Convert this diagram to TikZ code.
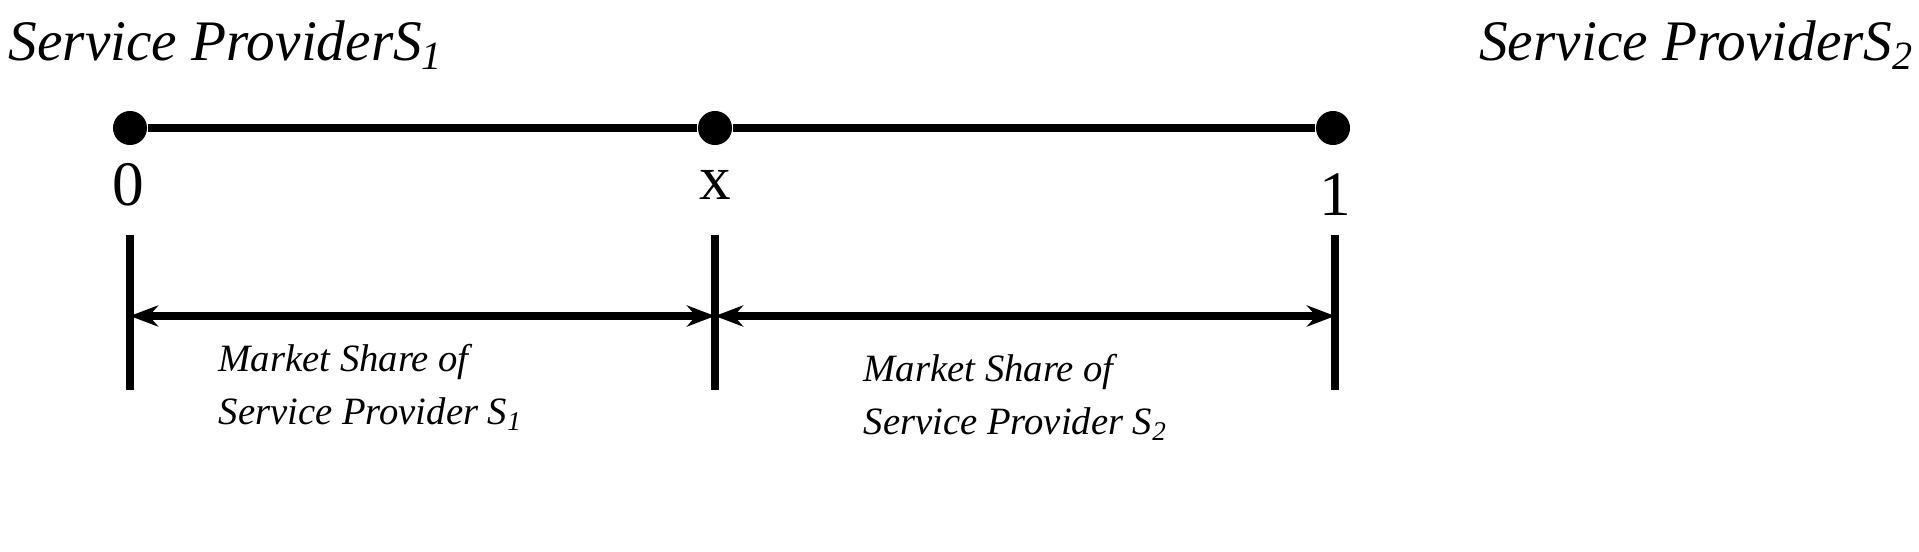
\documentclass[tikz,border=0pt]{standalone}
\usepackage{fontspec}
\setmainfont{Liberation Serif}
\usetikzlibrary{arrows.meta}
\begin{document}
\begin{tikzpicture}[x=0.01cm,y=0.01cm,
  dotnode/.style={circle,fill=black,inner sep=0pt,minimum size=0.34cm},
  ln/.style={line width=2.2pt},
  ttl/.style={font=\fontsize{16.3}{20}\selectfont\itshape,inner sep=0pt},
  numtxt/.style={font=\fontsize{18}{20}\selectfont,inner sep=0pt},
  sharetxt/.style={font=\fontsize{11}{15}\selectfont\itshape,align=left,inner sep=0pt}]
\node[dotnode] (p0) at (130,423) {};
\node[dotnode] (px) at (715,423) {};
\node[dotnode] (p1) at (1333,423) {};
\draw[ln] (p0) -- (px) -- (p1);
\node[ttl,anchor=west] (t1) at (8,506) {Service ProviderS\textsubscript{1}};
\node[ttl,anchor=east] (t2) at (1915,506) {Service ProviderS\textsubscript{2}};
\node[numtxt] (n0) at (128,366) {0};
\node[numtxt] (nx) at (715,366) {x};
\node[numtxt] (n1) at (1335,356) {1};
\coordinate (a0) at (130,235); \coordinate (t0) at (130,316); \coordinate (b0) at (130,161);
\coordinate (ax) at (715,235); \coordinate (tx) at (715,316); \coordinate (bx) at (715,161);
\coordinate (a1) at (1335,235); \coordinate (tt1) at (1335,316); \coordinate (b1) at (1335,161);
\draw[ln] (t0) -- (b0);
\draw[ln] (tx) -- (bx);
\draw[ln] (tt1) -- (b1);
\draw[ln,{Stealth[length=8pt]}-{Stealth[length=8pt]}] (a0) -- (ax);
\draw[ln,{Stealth[length=8pt]}-{Stealth[length=8pt]}] (ax) -- (a1);
\node[sharetxt,anchor=north west] (s1) at (218,207) {Market Share of\\Service Provider S\textsubscript{1}};
\node[sharetxt,anchor=north west] (s2) at (863,197) {Market Share of\\Service Provider S\textsubscript{2}};
\pgfresetboundingbox
\useasboundingbox (0,0) rectangle (1919,551);
\end{tikzpicture}
\end{document}
